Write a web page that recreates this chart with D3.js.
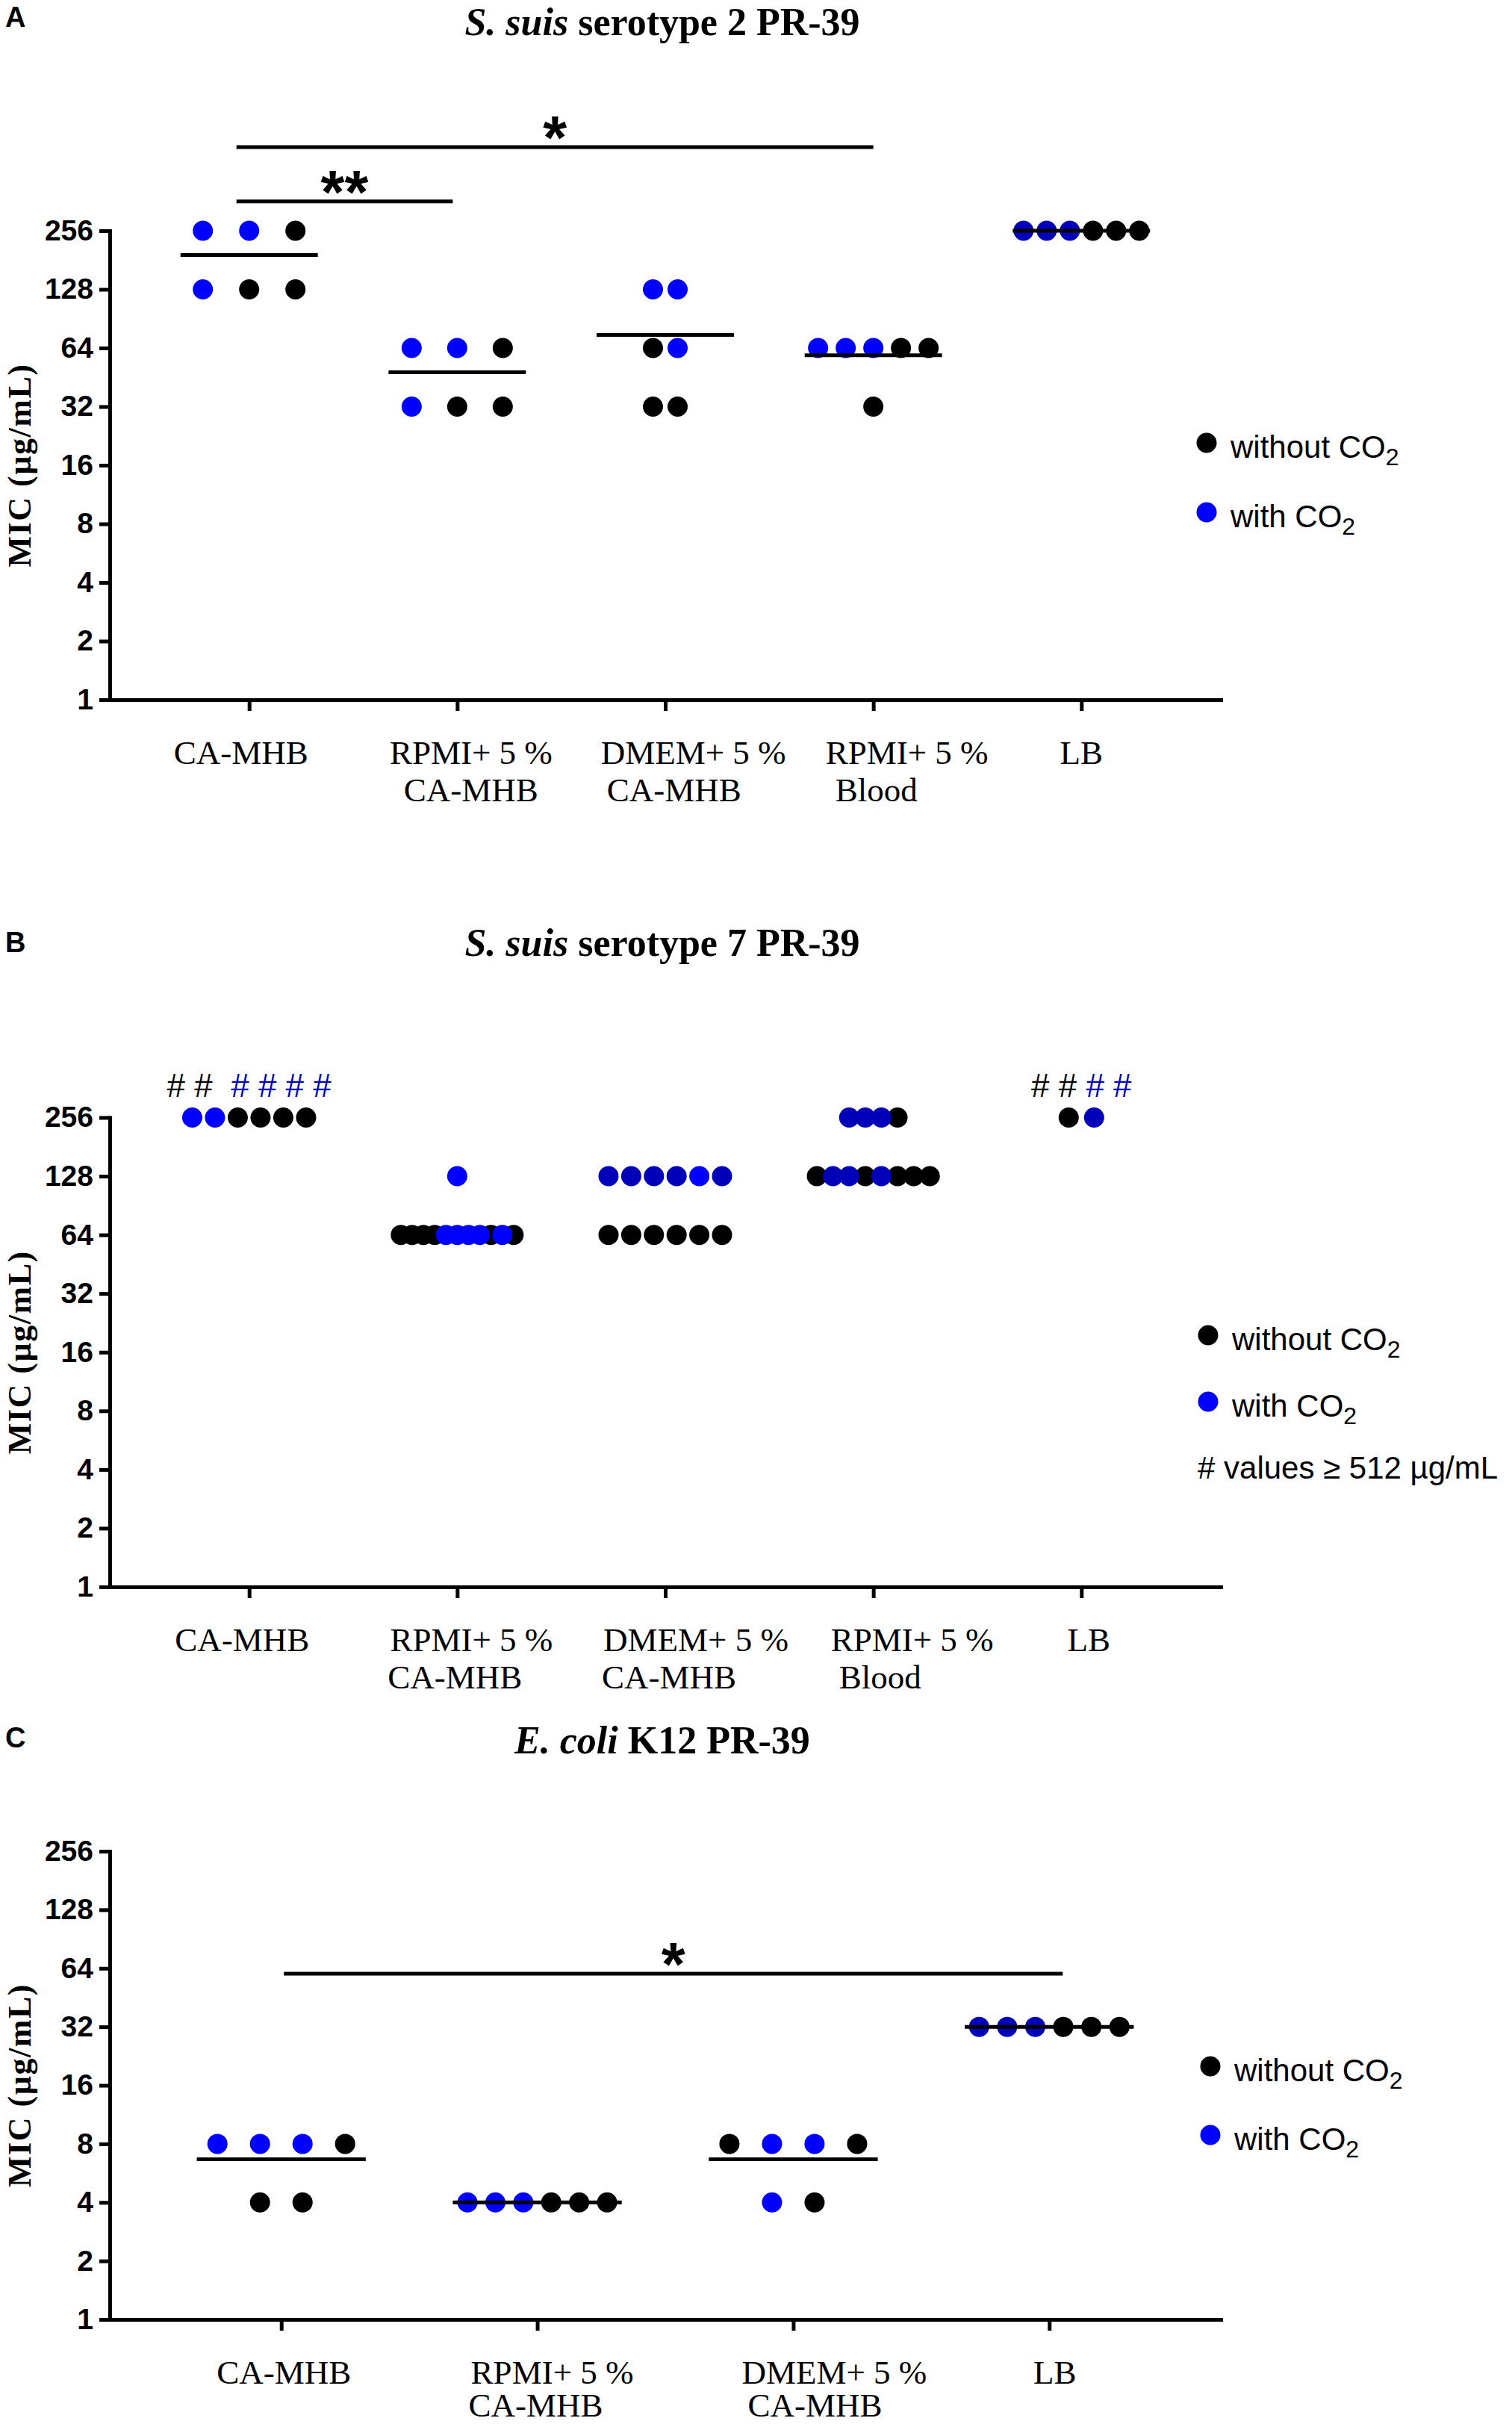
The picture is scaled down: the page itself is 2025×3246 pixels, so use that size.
<!DOCTYPE html>
<html><head><meta charset="utf-8">
<script src="https://cdn.jsdelivr.net/npm/d3@7"></script>
<style>body{margin:0;background:#fff}svg{display:block}</style>
</head><body>
<svg id="chart" width="2025" height="3246"></svg>
<script>
// ---------------- DATA ----------------
const yTickValues = [1, 2, 4, 8, 16, 32, 64, 128, 256];
const categoriesAB = [["CA-MHB"], ["RPMI+ 5 %", "CA-MHB"], ["DMEM+ 5 %", "CA-MHB"], ["RPMI+ 5 %", "Blood"], ["LB"]];
const categoriesC = [["CA-MHB"], ["RPMI+ 5 %", "CA-MHB"], ["DMEM+ 5 %", "CA-MHB"], ["LB"]];

// series codes: k = without CO2, b = with CO2, d = with CO2 (darker rendering)
const valuesA = [
  [256, 256, 256, 128, 128, 128],
  [64, 64, 64, 32, 32, 32],
  [128, 128, 64, 64, 32, 32],
  [64, 64, 64, 64, 64, 32],
  [256, 256, 256, 256, 256, 256]
];
const seriesA = [
  ["b", "b", "k", "b", "k", "k"],
  ["b", "b", "k", "b", "k", "k"],
  ["b", "b", "k", "b", "k", "k"],
  ["b", "b", "b", "k", "k", "k"],
  ["d", "d", "d", "k", "k", "k"]
];

const valuesB = [
  [256, 256, 256, 256, 256, 256],
  [128, 64, 64, 64, 64, 64, 64, 64, 64, 64, 64, 64],
  [128, 128, 128, 128, 128, 128, 64, 64, 64, 64, 64, 64],
  [256, 256, 256, 256, 128, 128, 128, 128, 128, 128, 128, 128],
  [256, 256]
];
const seriesB = [
  ["b", "b", "k", "k", "k", "k"],
  ["b", "k", "k", "k", "k", "b", "b", "b", "b", "k", "b", "k"],
  ["d", "d", "d", "d", "b", "d", "k", "k", "k", "k", "k", "k"],
  ["d", "d", "d", "k", "k", "d", "d", "k", "d", "k", "k", "k"],
  ["k", "d"]
];
// replicates with values >= 512 µg/mL (shown as #)
const overB = [
  ["k", "k", "d", "d", "d", "d"],
  [],
  [],
  [],
  ["k", "k", "d", "d"]
];

const valuesC = [
  [8, 8, 8, 8, 4, 4],
  [4, 4, 4, 4, 4, 4],
  [8, 8, 8, 8, 4, 4],
  [32, 32, 32, 32, 32, 32]
];
const seriesC = [
  ["b", "b", "b", "k", "k", "k"],
  ["b", "b", "b", "k", "k", "k"],
  ["k", "b", "b", "k", "b", "k"],
  ["d", "d", "d", "k", "k", "k"]
];

const sigA = [{from: 0, to: 3, value: 688, label: "*"}, {from: 0, to: 1, value: 362, label: "**"}];
const sigC = [{from: 0, to: 3, value: 60, label: "*"}];

// ---------------- STYLE / LAYOUT ----------------
const colors = {k: "#000000", b: "#0000ff", d: "#0000b8"};
const SANS = "'Liberation Sans', Arial, sans-serif";
const SERIF = "'Liberation Serif', 'Times New Roman', serif";
const X0 = 147, X1 = 1635;
const R = 13.5;

const panels = [
  {letter: "A", letterY: 36, title: [["S. suis", true], [" serotype 2 PR-39", false]], titleY: 47,
   top: 309, bottom: 937, cats: categoriesAB, values: valuesA, series: seriesA, over: null,
   spacing: [62, 61, 33, 37, 31], mean: true, sig: sigA, sigDx: [[-17, 0], [-17, -6]],
   labelDx: [[-11], [18.5, 18.5], [37.6, 11.7], [45, 4], [0]], labelLine: 50,
   legendX: 1616, legendY: [593, 686], note: false},
  {letter: "B", letterY: 1275, title: [["S. suis", true], [" serotype 7 PR-39", false]], titleY: 1280,
   top: 1496.5, bottom: 2125, cats: categoriesAB, values: valuesB, series: seriesB, over: overB,
   spacing: [30.5, 15.1, 30.4, 21.6, 34], mean: false, sig: [], sigDx: [],
   labelDx: [[-9.5], [19, -3], [41, 5], [52, 9], [10]], labelLine: 50,
   legendX: 1618, legendY: [1788, 1877], note: true},
  {letter: "C", letterY: 2340, title: [["E. coli", true], [" K12 PR-39", false]], titleY: 2348,
   top: 2479, bottom: 3106, cats: categoriesC, values: valuesC, series: seriesC, over: null,
   spacing: [57, 37.4, 57, 37.6], mean: true, sig: sigC, sigDx: [[3.5, 18]],
   labelDx: [[3.5], [20, -2], [55, 29], [7.5]], labelLine: 44,
   legendX: 1621, legendY: [2767, 2859], note: false}
];

const svg = d3.select("#chart");

panels.forEach(p => {
  const g = svg.append("g");
  const y = d3.scaleLog().base(2).domain([1, 256]).range([p.bottom, p.top]);
  const x = d3.scalePoint().domain(d3.range(p.cats.length)).range([X0, X1]).padding(0.67);

  // panel letter
  g.append("text").attr("x", 7).attr("y", p.letterY).text(p.letter)
    .style("font-family", SANS).style("font-weight", "bold").style("font-size", "38px");

  // title
  const t = g.append("text").attr("x", 887).attr("y", p.titleY).attr("text-anchor", "middle")
    .style("font-family", SERIF).style("font-weight", "bold").style("font-size", "52px");
  p.title.forEach(([s, it]) => t.append("tspan").text(s).style("font-style", it ? "italic" : "normal"));

  // y axis
  const ya = g.append("g").attr("transform", `translate(${X0},0)`)
    .call(d3.axisLeft(y).tickValues(yTickValues).tickFormat(d3.format("d")).tickSize(14).tickSizeOuter(0).tickPadding(8));
  ya.select(".domain").attr("stroke", "#000").attr("stroke-width", 5).attr("stroke-linecap", "square");
  ya.selectAll(".tick line").attr("stroke", "#000").attr("stroke-width", 5);
  ya.selectAll(".tick text").style("font-family", SANS).style("font-weight", "bold").style("font-size", "39px").attr("fill", "#000");

  // x axis
  const xa = g.append("g").attr("transform", `translate(0,${p.bottom})`)
    .call(d3.axisBottom(x).tickSize(15).tickSizeOuter(0).tickFormat(""));
  xa.select(".domain").attr("stroke", "#000").attr("stroke-width", 5).attr("stroke-linecap", "square");
  xa.selectAll(".tick line").attr("stroke", "#000").attr("stroke-width", 5);

  // category labels
  p.cats.forEach((lines, i) => {
    const lt = g.append("text").attr("text-anchor", "middle")
      .style("font-family", SERIF).style("font-size", "45px");
    lines.forEach((ln, j) => {
      lt.append("tspan").attr("x", x(i) + p.labelDx[i][j]).attr("y", p.bottom + 86 + j * p.labelLine).text(ln);
    });
  });

  // y title
  g.append("text").attr("transform", `translate(41,${(p.top + p.bottom) / 2}) rotate(-90)`)
    .attr("text-anchor", "middle").text("MIC (µg/mL)")
    .style("font-family", SERIF).style("font-weight", "bold").style("font-size", "44px").style("letter-spacing", "1.5px");

  // points
  const pts = [];
  p.values.forEach((vals, gi) => {
    const levels = Array.from(new Set(vals));
    levels.forEach(v => {
      const idx = vals.map((d, k) => d === v ? k : -1).filter(k => k >= 0);
      const n = idx.length;
      idx.forEach((k, r) => {
        pts.push({group: gi, value: v, s: p.series[gi][k], off: (r - (n - 1) / 2) * p.spacing[gi]});
      });
    });
  });
  const order = {k: 0, b: 1, d: 1};
  pts.sort((a, b) => order[a.s] - order[b.s]);
  g.append("g").selectAll("circle").data(pts).join("circle")
    .attr("cx", d => x(d.group) + d.off).attr("cy", d => y(d.value)).attr("r", R)
    .attr("fill", d => colors[d.s]);

  // mean lines
  if (p.mean) {
    const hw = 0.33 * x.step();
    g.append("g").selectAll("line").data(p.values).join("line")
      .attr("x1", (d, i) => x(i) - hw).attr("x2", (d, i) => x(i) + hw)
      .attr("y1", d => y(d3.mean(d))).attr("y2", d => y(d3.mean(d)))
      .attr("stroke", "#000").attr("stroke-width", 5);
  }

  // significance bars
  p.sig.forEach((s, i) => {
    const xa1 = x(s.from) + p.sigDx[i][0], xa2 = x(s.to) + p.sigDx[i][1];
    const yy = y(s.value);
    g.append("line").attr("x1", xa1).attr("x2", xa2).attr("y1", yy).attr("y2", yy)
      .attr("stroke", "#000").attr("stroke-width", 5);
    g.append("text").attr("x", (xa1 + xa2) / 2).attr("y", yy - 30 + 45).attr("text-anchor", "middle")
      .text(s.label).style("font-family", SANS).style("font-weight", "bold").style("font-size", "82px");
  });

  // ≥512 markers
  if (p.over) {
    p.over.forEach((codes, i) => {
      if (!codes.length) return;
      const grp = d3.groups(codes, c => c);
      const tt = g.append("text").attr("x", x(i)).attr("y", y(256) - 28).attr("text-anchor", "middle")
        .style("font-family", SANS).style("font-size", "44px").style("white-space", "pre");
      grp.forEach(([c, arr], gi) => {
        const gap = gi === 0 ? "" : (i === 0 ? "  " : " ");
        tt.append("tspan").attr("fill", colors[c]).text(gap + arr.map(() => "#").join(" "));
      });
    });
  }

  // legend
  const leg = [["k", "without CO"], ["b", "with CO"]];
  leg.forEach(([c, label], i) => {
    const ly = p.legendY[i];
    g.append("circle").attr("cx", p.legendX).attr("cy", ly).attr("r", R).attr("fill", colors[c]);
    const lt = g.append("text").attr("x", p.legendX + 32).attr("y", ly + 20)
      .style("font-family", SANS).style("font-size", "42px");
    lt.append("tspan").text(label);
    lt.append("tspan").attr("dy", 10).style("font-size", "32px").text("2");
  });
  if (p.note) {
    g.append("text").attr("x", p.legendX - 14).attr("y", 1980)
      .style("font-family", SANS).style("font-size", "42px").text("# values ≥ 512 µg/mL");
  }
});
</script>
</body></html>
